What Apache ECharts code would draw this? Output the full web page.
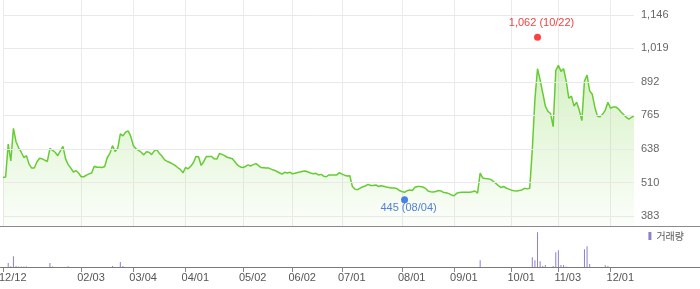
<!DOCTYPE html>
<html><head><meta charset="utf-8">
<script src="https://cdn.jsdelivr.net/npm/echarts@6/dist/echarts.min.js"></script>
<style>html,body{margin:0;padding:0;background:#fff}#c{width:700px;height:289px}</style>
</head><body><div id="c"></div>
<script>
const dates = [
'24/12/12','24/12/13','24/12/16','24/12/17','24/12/18','24/12/19','24/12/20','24/12/23','24/12/24','24/12/26','24/12/27','24/12/30',
'25/01/02','25/01/03','25/01/06','25/01/07','25/01/08','25/01/09','25/01/10','25/01/13','25/01/14','25/01/15','25/01/16','25/01/17','25/01/20','25/01/21','25/01/22','25/01/23','25/01/24','25/01/31',
'25/02/03','25/02/04','25/02/05','25/02/06','25/02/07','25/02/10','25/02/11','25/02/12','25/02/13','25/02/14','25/02/17','25/02/18','25/02/19','25/02/20','25/02/21','25/02/24','25/02/25','25/02/26','25/02/27','25/02/28',
'25/03/04','25/03/05','25/03/06','25/03/07','25/03/10','25/03/11','25/03/12','25/03/13','25/03/14','25/03/17','25/03/18','25/03/19','25/03/20','25/03/21','25/03/24','25/03/25','25/03/26','25/03/27','25/03/28','25/03/31',
'25/04/01','25/04/02','25/04/03','25/04/04','25/04/07','25/04/08','25/04/09','25/04/10','25/04/11','25/04/14','25/04/15','25/04/16','25/04/17','25/04/18','25/04/21','25/04/22','25/04/23','25/04/24','25/04/25','25/04/28','25/04/29','25/04/30',
'25/05/02','25/05/07','25/05/08','25/05/09','25/05/12','25/05/13','25/05/14','25/05/15','25/05/16','25/05/19','25/05/20','25/05/21','25/05/22','25/05/23','25/05/26','25/05/27','25/05/28','25/05/29','25/05/30',
'25/06/02','25/06/04','25/06/05','25/06/09','25/06/10','25/06/11','25/06/12','25/06/13','25/06/16','25/06/17','25/06/18','25/06/19','25/06/20','25/06/23','25/06/24','25/06/25','25/06/26','25/06/27','25/06/30',
'25/07/01','25/07/02','25/07/03','25/07/04','25/07/07','25/07/08','25/07/09','25/07/10','25/07/11','25/07/14','25/07/15','25/07/16','25/07/17','25/07/18','25/07/21','25/07/22','25/07/23','25/07/24','25/07/25','25/07/28','25/07/29','25/07/30','25/07/31',
'25/08/01','25/08/04','25/08/05','25/08/06','25/08/07','25/08/08','25/08/11','25/08/12','25/08/13','25/08/14','25/08/18','25/08/19','25/08/20','25/08/21','25/08/22','25/08/25','25/08/26','25/08/27','25/08/28','25/08/29',
'25/09/01','25/09/02','25/09/03','25/09/04','25/09/05','25/09/08','25/09/09','25/09/10','25/09/11','25/09/12','25/09/15','25/09/16','25/09/17','25/09/18','25/09/19','25/09/22','25/09/23','25/09/24','25/09/25','25/09/26','25/09/29','25/09/30',
'25/10/01','25/10/02','25/10/10','25/10/13','25/10/14','25/10/15','25/10/16','25/10/17','25/10/20','25/10/21','25/10/22','25/10/23','25/10/24','25/10/27','25/10/28','25/10/29','25/10/30','25/10/31',
'25/11/03','25/11/04','25/11/05','25/11/06','25/11/07','25/11/10','25/11/11','25/11/12','25/11/13','25/11/14','25/11/17','25/11/18','25/11/19','25/11/20','25/11/21','25/11/24','25/11/25','25/11/26','25/11/27','25/11/28',
'25/12/01','25/12/02','25/12/03','25/12/04','25/12/05','25/12/08','25/12/09','25/12/10','25/12/11','25/12/12'
];

const closePrices = [
529,531,656,592,716,665,642,625,605,612,
580,565,565,588,602,600,595,590,640,632,
625,612,630,647,600,578,565,550,555,546,
532,532,538,543,546,572,568,568,567,571,
605,621,650,628,640,695,687,701,706,685,
650,638,632,625,615,627,625,616,630,635,
620,610,596,590,586,581,575,567,560,547,
567,562,572,585,609,608,575,590,609,609,
609,600,599,620,617,612,606,603,600,588,
576,569,567,571,577,573,578,582,574,567,
566,565,565,560,557,552,547,542,549,546,
549,543,545,548,550,553,554,550,546,543,
545,539,541,534,532,539,539,539,539,548,
542,538,535,536,495,485,483,489,494,497,
503,499,499,501,495,498,496,493,491,489,
489,487,480,476,473,479,482,480,492,495,
495,493,488,478,475,474,476,480,478,472,
471,468,463,460,469,472,473,473,473,473,
475,478,470,546,527,525,524,522,515,507,
498,491,495,489,485,481,479,478,480,482,
488,486,488,636,826,942,900,850,800,780,
772,722,935,955,932,942,895,830,838,800,
815,785,745,895,918,858,845,795,762,760,
770,785,815,792,797,797,790,778,768,758,
751,757,763
];

const volumes = [
0,0,5000,1700,11700,2000,1500,1500,1500,1500,
0,0,0,0,0,0,0,0,5000,1500,
0,0,0,0,0,1700,0,0,0,0,
0,0,0,0,0,1000,0,0,0,0,
1000,1000,2000,0,0,6000,2000,0,0,0,
0,0,0,0,0,0,0,0,0,0,
0,0,0,0,0,0,0,0,0,0,
1000,0,0,0,1000,0,0,0,0,0,
0,0,0,0,0,0,0,0,0,0,
0,0,0,0,0,0,0,0,0,0,
0,0,0,0,0,0,0,0,0,0,
0,0,0,0,0,0,0,0,0,0,
0,0,0,0,0,0,0,0,0,0,
0,0,0,0,0,1000,1000,0,0,0,
0,0,0,0,0,0,0,0,0,0,
0,0,0,0,0,0,0,0,1000,0,
0,0,0,0,0,0,0,0,0,0,
0,0,0,0,0,0,0,0,0,0,
0,0,0,7700,1000,0,0,0,0,0,
0,0,0,0,0,0,0,0,0,0,
0,0,0,10700,7700,35700,6700,2000,3000,1000,
1000,2000,15700,17700,3000,3000,1500,1000,1000,1000,
1000,1000,1000,18700,21700,4000,1000,1000,1000,1000,
0,2700,2000,1000,1000,0,0,1000,1000,1000,
0,0,0
];

const yTicks = [383, 510, 638, 765, 892, 1019, 1146];
const monthTicks = ['24/12/12','25/02/03','25/03/04','25/04/01','25/05/02','25/06/02','25/07/01','25/08/01','25/09/01','25/10/01','25/11/03','25/12/01'];
const highPoint = ['25/10/22', 1062];
const lowPoint = ['25/08/04', 445];
const volumeName = '거래량';

const fmt = v => String(v).replace(/\B(?=(\d{3})+(?!\d))/g, ',');
const isTick = (i, v) => monthTicks.indexOf(v) >= 0;
const FONT = "'Liberation Sans', Arial, sans-serif";

const chart = echarts.init(document.getElementById('c'), null, {renderer: 'canvas'});
chart.setOption({
  animation: false,
  backgroundColor: '#ffffff',
  textStyle: {fontFamily: FONT},
  legend: {
    data: [volumeName], right: 16, top: 231, padding: 0,
    icon: 'rect', itemWidth: 3, itemHeight: 8, itemGap: 4,
    textStyle: {fontSize: 10, color: '#555', fontFamily: "'Noto Sans CJK KR', sans-serif"},
    selectedMode: false
  },
  grid: [
    {left: 3, right: 66, top: 0, height: 226, outerBoundsMode: 'none'},
    {left: 3, right: 66, top: 228, height: 40, outerBoundsMode: 'none'}
  ],
  xAxis: [
    {type: 'category', gridIndex: 0, data: dates, boundaryGap: false,
     axisLine: {show: false}, axisTick: {show: false}, axisLabel: {show: false},
     splitLine: {show: true, interval: isTick, lineStyle: {color: '#ebebeb', width: 1}}},
    {type: 'category', gridIndex: 1, data: dates, boundaryGap: false,
     axisLine: {show: false},
     axisTick: {show: true, interval: isTick, length: 4, lineStyle: {color: '#888'}},
     axisLabel: {show: true, interval: isTick, formatter: v => v.slice(3), align: 'left',
       padding: [0, 0, 0, -4], margin: 4, fontSize: 11, color: '#555', fontFamily: FONT},
     splitLine: {show: false}}
  ],
  yAxis: [
    {type: 'value', gridIndex: 0, min: 345, max: 1203, show: false, splitLine: {show: false}},
    {type: 'value', gridIndex: 1, min: 0, max: 40000, show: false, splitLine: {show: false}}
  ],
  graphic: [
    {type: 'line', shape: {x1: 0, y1: 226.5, x2: 700, y2: 226.5}, style: {stroke: '#8a8a8a', lineWidth: 1}, z: 10},
    {type: 'line', shape: {x1: 0, y1: 267.5, x2: 700, y2: 267.5}, style: {stroke: '#7a7a7a', lineWidth: 1}, z: 10}
  ],
  series: [
    {
      name: '종가', type: 'line', xAxisIndex: 0, yAxisIndex: 0, data: closePrices,
      symbol: 'none', smooth: false,
      lineStyle: {color: '#66cc33', width: 1.5},
      areaStyle: {color: new echarts.graphic.LinearGradient(0, 0, 0, 1, [
        {offset: 0, color: 'rgba(125,212,70,0.45)'},
        {offset: 1, color: 'rgba(125,212,70,0.04)'}
      ])},
      markLine: {
        silent: true, symbol: 'none', animation: false,
        lineStyle: {color: '#e9e9e9', type: 'solid', width: 1},
        label: {show: true, position: 'end', distance: 7, formatter: p => fmt(p.value),
          fontSize: 11, color: '#666', fontFamily: FONT},
        emphasis: {disabled: true},
        data: yTicks.map(v => ({yAxis: v}))
      },
      z: 2
    },
    {
      name: '최고', type: 'scatter', xAxisIndex: 0, yAxisIndex: 0,
      data: [highPoint], symbolSize: 7, itemStyle: {color: '#ff1010'},
      label: {show: true, position: 'top', distance: 5, offset: [4, 0],
        formatter: p => fmt(p.value[1]) + ' (' + p.value[0].slice(3) + ')',
        fontSize: 11, color: '#e81010', fontFamily: FONT},
      z: 5
    },
    {
      name: '최저', type: 'scatter', xAxisIndex: 0, yAxisIndex: 0,
      data: [lowPoint], symbolSize: 7, itemStyle: {color: '#1c64e0'},
      label: {show: true, position: 'bottom', distance: 0, offset: [4, -1],
        formatter: p => fmt(p.value[1]) + ' (' + p.value[0].slice(3) + ')',
        fontSize: 11, color: '#2a60d0', fontFamily: FONT},
      z: 5
    },
    {
      name: volumeName, type: 'bar', xAxisIndex: 1, yAxisIndex: 1, data: volumes,
      barWidth: 1, itemStyle: {color: '#8f7fcc'}, z: 2
    }
  ]
});
</script>
</body></html>
